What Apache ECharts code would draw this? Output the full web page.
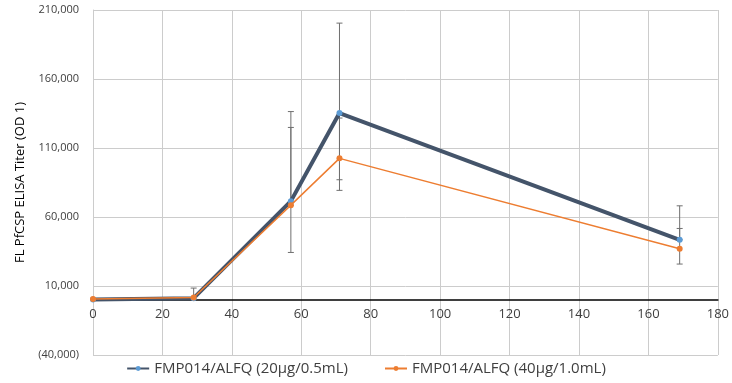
<!DOCTYPE html>
<html>
<head>
<meta charset="utf-8">
<script src="https://cdn.jsdelivr.net/npm/echarts@6/dist/echarts.min.js"></script>
<style>
  html, body { margin: 0; padding: 0; background: #fff; }
  #container { width: 732px; height: 383px; }
</style>
</head>
<body>
<div id="container"></div>
<script>
const days = [0, 29, 57, 71, 169]

const nameA = 'FMP014/ALFQ (20μg/0.5mL)'
const nameB = 'FMP014/ALFQ (40μg/1.0mL)'

const titerA = [300, 1200, 71500, 135300, 43500]
const titerB = [500, 1700, 68600, 102500, 37000]

// error bar ends (null = no bar)
const errA = [null, null, [34300, 136400], [87000, 200500], [43500, 68100]]
const errB = [null, [1700, 8500], [68600, 124900], [79300, 131700], [25900, 51700]]

const yTicks = [-40000, 10000, 60000, 110000, 160000, 210000]

const dom = document.getElementById('container')
const myChart = echarts.init(dom)

const fmt = (v) => {
    const s = Math.abs(v).toLocaleString('en-US')
    return v < 0 ? '(' + s + ')' : s
}

const errData = []
days.forEach((d, i) => {
    if (errA[i]) errData.push([d, errA[i][0], errA[i][1]])
    if (errB[i]) errData.push([d, errB[i][0], errB[i][1]])
})

const renderErr = (params, api) => {
    const lo = api.coord([api.value(0), api.value(1)])
    const hi = api.coord([api.value(0), api.value(2)])
    const w = 3
    const style = { stroke: '#6f6f6f', lineWidth: 1 }
    return {
        type: 'group',
        children: [
            { type: 'line', shape: { x1: lo[0], y1: lo[1], x2: hi[0], y2: hi[1] }, style },
            { type: 'line', shape: { x1: lo[0] - w, y1: lo[1], x2: lo[0] + w, y2: lo[1] }, style },
            { type: 'line', shape: { x1: hi[0] - w, y1: hi[1], x2: hi[0] + w, y2: hi[1] }, style }
        ]
    }
}

const option = {
    backgroundColor: '#fff',
    animation: false,
    textStyle: { fontFamily: 'Open Sans' },
    grid: { left: 93, right: 12, top: 10, bottom: 28 },
    legend: {
        data: [nameA, nameB],
        bottom: 2,
        left: 'center',
        itemGap: 36,
        itemWidth: 22,
        itemHeight: 6,
        textStyle: { color: '#404040', fontSize: 15, fontFamily: 'Open Sans' }
    },
    xAxis: {
        type: 'value',
        min: 0,
        max: 180,
        interval: 20,
        axisLine: { onZero: true, lineStyle: { color: '#000', width: 1.5 } },
        axisTick: { show: false },
        // labels sit just under the zero line, as in the source
        axisLabel: { color: '#404040', fontSize: 13, margin: -47 },
        splitLine: { show: true, lineStyle: { color: '#cccccc', width: 1 } }
    },
    yAxis: {
        type: 'value',
        min: yTicks[0],
        max: yTicks[yTicks.length - 1],
        interval: 50000,
        name: 'FL PfCSP ELISA Titer (OD 1)',
        nameLocation: 'middle',
        nameGap: 66,
        nameTextStyle: { color: '#000', fontSize: 13, fontFamily: 'Open Sans' },
        axisLine: { show: true, lineStyle: { color: '#cccccc' } },
        axisTick: { show: false },
        axisLabel: { color: '#404040', fontSize: 11, margin: 14, formatter: fmt },
        splitLine: { show: true, lineStyle: { color: '#cccccc', width: 1 } }
    },
    series: [
        {
            type: 'custom',
            renderItem: renderErr,
            data: errData,
            z: 1,
            silent: true
        },
        {
            name: nameA,
            type: 'line',
            data: days.map((d, i) => [d, titerA[i]]),
            z: 3,
            symbol: 'circle',
            symbolSize: 6,
            lineStyle: { color: '#44546A', width: 4 },
            itemStyle: { color: '#5B9BD5', borderWidth: 0 }
        },
        {
            name: nameB,
            type: 'line',
            data: days.map((d, i) => [d, titerB[i]]),
            z: 4,
            symbol: 'circle',
            symbolSize: 6,
            lineStyle: { color: '#ED7D31', width: 1.5 },
            itemStyle: { color: '#ED7D31', borderWidth: 0 }
        }
    ]
}

myChart.setOption(option)
</script>
</body>
</html>
